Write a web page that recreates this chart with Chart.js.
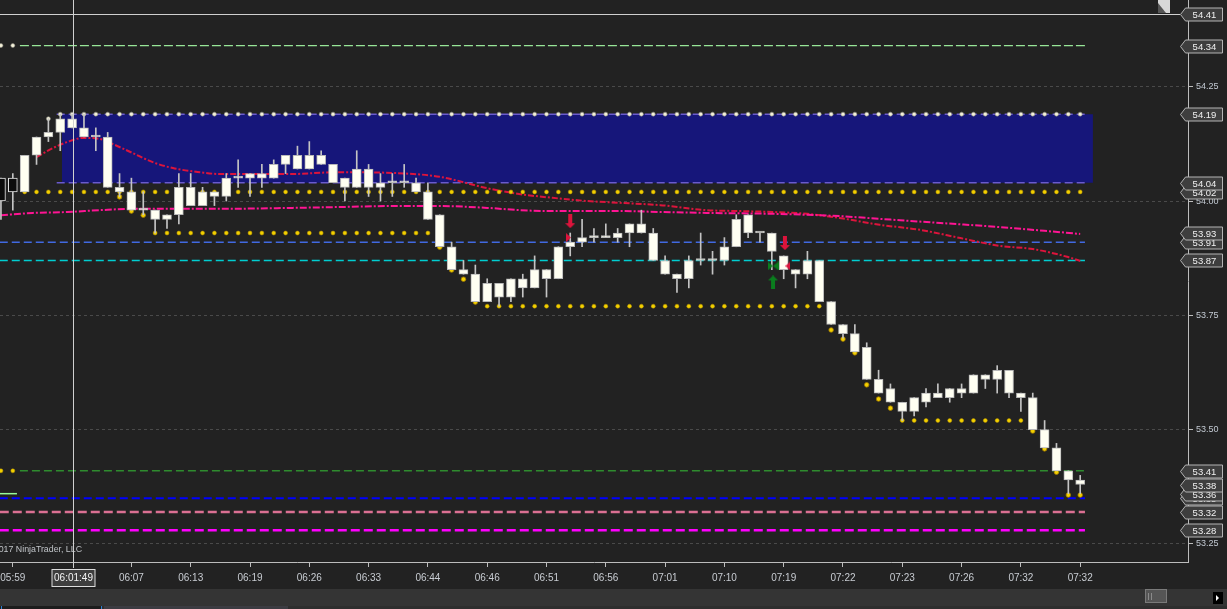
<!DOCTYPE html>
<html>
<head>
<meta charset="utf-8">
<title>CL 1 min</title>
<script src="https://cdn.jsdelivr.net/npm/chart.js@4.4.0/dist/chart.umd.min.js"></script>
<style>
html, body { margin: 0; padding: 0; background: #222222; overflow: hidden; }
#wrap { position: relative; width: 1227px; height: 609px; }
</style>
</head>
<body>
<div id="wrap"><canvas id="PriceChart"></canvas></div>
<script>
// x axis time labels, placed on bar index
var timeIdx = [1, 11, 16, 21, 26, 31, 36, 41, 46, 51, 56, 61, 66, 71, 76, 81, 86, 91];
var times = ['05:59', '06:07', '06:13', '06:19', '06:26', '06:33', '06:44', '06:46', '06:51',
             '06:56', '07:01', '07:10', '07:19', '07:22', '07:23', '07:26', '07:32', '07:32'];
var gridPrices = [53.25, 53.50, 53.75, 54.00, 54.25];

// candles (bar index = position in array)
var high = [54.05, 54.06, 54.10, 54.14, 54.18, 54.19, 54.19, 54.19, 54.16, 54.15,
            54.06, 54.05, 54.02, 53.98, 53.97, 54.06, 54.06, 54.03, 54.02, 54.06,
            54.09, 54.06, 54.08, 54.09, 54.10, 54.12, 54.13, 54.11, 54.08, 54.05,
            54.11, 54.08, 54.06, 54.06, 54.08, 54.05, 54.04, 53.97, 53.91, 53.87,
            53.86, 53.83, 53.82, 53.83, 53.84, 53.88, 53.85, 53.90, 53.93, 53.96,
            53.94, 53.95, 53.94, 53.95, 53.98, 53.94, 53.88, 53.84, 53.88, 53.93,
            53.89, 53.92, 53.97, 53.97, 53.93, 53.93, 53.88, 53.85, 53.89, 53.87,
            53.78, 53.73, 53.73, 53.69, 53.63, 53.60, 53.56, 53.57, 53.59, 53.60,
            53.59, 53.60, 53.62, 53.62, 53.64, 53.63, 53.58, 53.58, 53.52, 53.47,
            53.41, 53.40];
var bodyTop = [54.05, 54.05, 54.10, 54.14, 54.15, 54.18, 54.18, 54.16, 54.14, 54.14,
               54.03, 54.02, 53.98, 53.98, 53.97, 54.03, 54.03, 54.02, 54.02, 54.05,
               54.05, 54.06, 54.06, 54.08, 54.10, 54.10, 54.10, 54.10, 54.08, 54.05,
               54.07, 54.07, 54.04, 54.04, 54.04, 54.04, 54.02, 53.97, 53.90, 53.85,
               53.84, 53.82, 53.82, 53.83, 53.83, 53.85, 53.85, 53.90, 53.91, 53.92,
               53.92, 53.92, 53.93, 53.95, 53.95, 53.93, 53.87, 53.84, 53.87, 53.87,
               53.87, 53.90, 53.96, 53.97, 53.93, 53.93, 53.88, 53.85, 53.87, 53.87,
               53.78, 53.73, 53.71, 53.68, 53.61, 53.59, 53.56, 53.57, 53.58, 53.58,
               53.59, 53.59, 53.62, 53.62, 53.63, 53.63, 53.58, 53.57, 53.50, 53.46,
               53.41, 53.39];
var bodyBottom = [54.00, 54.02, 54.02, 54.10, 54.14, 54.15, 54.16, 54.14, 54.14, 54.03,
                  54.02, 53.98, 53.98, 53.96, 53.96, 53.97, 53.99, 53.99, 54.01, 54.01,
                  54.05, 54.05, 54.05, 54.05, 54.08, 54.07, 54.07, 54.08, 54.04, 54.03,
                  54.03, 54.03, 54.03, 54.04, 54.04, 54.02, 53.96, 53.90, 53.85, 53.84,
                  53.78, 53.78, 53.79, 53.79, 53.81, 53.81, 53.83, 53.83, 53.90, 53.91,
                  53.92, 53.92, 53.92, 53.93, 53.93, 53.87, 53.84, 53.83, 53.83, 53.87,
                  53.87, 53.87, 53.90, 53.93, 53.93, 53.89, 53.85, 53.84, 53.84, 53.78,
                  53.73, 53.71, 53.67, 53.61, 53.58, 53.56, 53.54, 53.54, 53.56, 53.57,
                  53.57, 53.58, 53.58, 53.61, 53.61, 53.58, 53.57, 53.50, 53.46, 53.41,
                  53.39, 53.38];
var low = [53.96, 53.98, 54.02, 54.08, 54.13, 54.11, 54.16, 54.14, 54.11, 54.03,
           54.01, 53.98, 53.97, 53.93, 53.94, 53.95, 53.99, 53.99, 53.99, 54.00,
           54.03, 54.01, 54.03, 54.05, 54.06, 54.07, 54.07, 54.08, 54.04, 54.00,
           54.03, 54.01, 54.00, 54.01, 54.03, 54.02, 53.96, 53.90, 53.85, 53.84,
           53.78, 53.78, 53.77, 53.78, 53.79, 53.81, 53.79, 53.83, 53.88, 53.90,
           53.91, 53.92, 53.91, 53.90, 53.93, 53.87, 53.84, 53.80, 53.81, 53.86,
           53.84, 53.86, 53.90, 53.92, 53.91, 53.85, 53.83, 53.81, 53.83, 53.78,
           53.73, 53.70, 53.67, 53.61, 53.58, 53.56, 53.52, 53.53, 53.55, 53.57,
           53.56, 53.57, 53.58, 53.59, 53.58, 53.57, 53.54, 53.50, 53.46, 53.41,
           53.36, 53.36];

// moving averages, read at bar positions
var slowMaIdx = [0, 2.7, 5.6, 8.3, 11.1, 18.5, 24.6, 28.8, 33, 37, 41, 43.8, 46.5, 52.2,
                 55.6, 59.5, 65.1, 70.7, 74.1, 79.2, 84.2, 91];
var slowMa = [53.969, 53.974, 53.976, 53.980, 53.983, 53.983, 53.985, 53.987, 53.989, 53.989,
              53.985, 53.980, 53.978, 53.978, 53.976, 53.974, 53.972, 53.967, 53.961, 53.952,
              53.943, 53.928];
var fastMaIdx = [3, 4.4, 5.6, 6.9, 8.3, 9.4, 11.1, 12.8, 14.5, 16.8, 18.5, 24.4, 28.3, 33.4,
                 37, 41, 43.8, 46.5, 49.4, 52.2, 55.6, 59.5, 62.3, 65.1, 68, 70.7, 74.1, 77.5,
                 80.9, 84.2, 87, 89.9, 91];
var fastMa = [54.096, 54.116, 54.129, 54.138, 54.136, 54.125, 54.105, 54.085, 54.072, 54.063,
              54.059, 54.059, 54.063, 54.061, 54.053, 54.028, 54.015, 54.007, 54.000, 53.996,
              53.991, 53.980, 53.978, 53.976, 53.972, 53.963, 53.948, 53.937, 53.919, 53.902,
              53.895, 53.878, 53.869];

// dotted level rows (first bar, last bar, price)
var yellowRowFrom = [2, 13, 41, 76, 0];
var yellowRowTo = [91, 36, 69, 86, 1];
var yellowRowPrice = [54.02, 53.93, 53.77, 53.52, 53.41];
var paleRowFrom = [0, 5, 4];
var paleRowTo = [1, 91, 4];
var paleRowPrice = [54.34, 54.19, 54.18];
// dots under the bars
var lowDotIdx = [10, 11, 12, 37, 38, 39, 40, 70, 71, 72, 73, 74, 75, 87, 88, 89, 90, 91];
var lowDotPrice = [54.009, 53.978, 53.969, 53.899, 53.849, 53.829, 53.779, 53.718, 53.698,
                   53.668, 53.598, 53.567, 53.547, 53.497, 53.458, 53.407, 53.357, 53.357];

// zone and horizontal lines
var zoneTop = 54.19;
var zoneBottom = 54.04;
var levels = [54.34, 54.19, 54.04, 53.91, 53.87, 53.41, 53.36, 53.35, 53.32, 53.28];

// trade markers
var sigIdx = [48, 47.85, 65.1, 65.1, 66.1, 66.36];
var sigPrice = [53.956, 53.920, 53.858, 53.822, 53.908, 53.858];
var sigKind = ['sell', 'sellTri', 'tie', 'buy', 'sell', 'exitTri'];

// right axis price boxes
var markerPrices = [53.28, 53.32, 53.35, 53.36, 53.38, 53.41, 53.87, 53.91, 53.93, 54.02, 54.04, 54.19, 54.34, 54.41];
var crossIdx = 6.07;
var crossPrice = 54.41;
var crossTime = '06:01:49';

var FONT = "'Liberation Sans', Arial, sans-serif";
Chart.defaults.font.family = FONT;

var levelStyles = [
    {color: '#98e698', dash: [9, 3], width: 1.2, from: 1.6, to: 91.4},
    {color: '#6a5acd', dash: [8, 4], width: 1.5, from: 4.7, to: 91.4},
    {color: '#6a5acd', dash: [8, 4], width: 1.5, from: 4.7, to: 91.4},
    {color: '#4169e1', dash: [8, 4], width: 1.5, from: -0.1, to: 91.4},
    {color: '#00ced1', dash: [8, 4], width: 1.5, from: -0.1, to: 91.4},
    {color: '#2e8b2e', dash: [8, 4], width: 1.5, from: 1.6, to: 91.4},
    {color: '#98fb98', dash: [], width: 1.5, from: -0.1, to: 1.35},
    {color: '#0000ff', dash: [8, 4], width: 2, from: -0.1, to: 91.4},
    {color: '#db7093', dash: [9, 4], width: 2.5, from: -0.1, to: 91.4},
    {color: '#ff00ff', dash: [9, 4], width: 2.5, from: -0.1, to: 91.4}
];

function makeMarker(kind) {
    var c = document.createElement('canvas');
    var g;
    if (kind === 'sell' || kind === 'buy') {
        c.width = 10; c.height = 14;
        g = c.getContext('2d');
        g.fillStyle = kind === 'sell' ? '#dc143c' : '#0a7d1e';
        g.beginPath();
        if (kind === 'sell') {
            g.moveTo(3, 0); g.lineTo(7, 0); g.lineTo(7, 9); g.lineTo(10, 9);
            g.lineTo(5, 14); g.lineTo(0, 9); g.lineTo(3, 9);
        } else {
            g.moveTo(5, 0); g.lineTo(10, 5); g.lineTo(7, 5); g.lineTo(7, 14);
            g.lineTo(3, 14); g.lineTo(3, 5); g.lineTo(0, 5);
        }
        g.closePath(); g.fill();
    } else if (kind === 'tie') {
        c.width = 11; c.height = 9;
        g = c.getContext('2d');
        g.fillStyle = '#0a7d1e';
        g.beginPath(); g.moveTo(0, 0); g.lineTo(5.5, 4.5); g.lineTo(0, 9); g.closePath(); g.fill();
        g.beginPath(); g.moveTo(11, 0); g.lineTo(5.5, 4.5); g.lineTo(11, 9); g.closePath(); g.fill();
    } else {
        c.width = 5; c.height = 9;
        g = c.getContext('2d');
        g.fillStyle = '#dc143c';
        g.beginPath();
        if (kind === 'sellTri') { g.moveTo(0, 0); g.lineTo(5, 4.5); g.lineTo(0, 9); }
        else { g.moveTo(5, 0); g.lineTo(0, 4.5); g.lineTo(5, 9); }
        g.closePath(); g.fill();
    }
    return c;
}

function rowPoints(from, to, price) {
    var pts = [];
    for (var r = 0; r < price.length; r++) {
        for (var i = from[r]; i <= to[r]; i++) pts.push({x: i, y: price[r]});
    }
    return pts;
}

var wickData = high.map(function (h, i) { return {x: i, y: [low[i], h]}; });
var bodyData = bodyTop.map(function (t, i) { return {x: i, y: [bodyBottom[i], t]}; });

var datasets = [];

datasets.push({
    type: 'line', order: 20,
    data: [{x: 5.14, y: zoneTop}, {x: 92.07, y: zoneTop}],
    fill: {value: zoneBottom}, backgroundColor: '#16167a',
    borderWidth: 0, pointRadius: 0
});

levels.forEach(function (p, k) {
    var s = levelStyles[k];
    datasets.push({
        type: 'line', order: 15,
        data: [{x: s.from, y: p}, {x: s.to, y: p}],
        borderColor: s.color, borderWidth: s.width, borderDash: s.dash,
        pointRadius: 0, fill: false
    });
});

datasets.push({
    type: 'line', order: 12,
    data: slowMaIdx.map(function (v, i) { return {x: v, y: slowMa[i]}; }),
    borderColor: '#ff1493', borderWidth: 2, borderDash: [7, 2, 2, 2],
    pointRadius: 0, cubicInterpolationMode: 'monotone', fill: false
});
datasets.push({
    type: 'line', order: 12,
    data: fastMaIdx.map(function (v, i) { return {x: v, y: fastMa[i]}; }),
    borderColor: '#dc143c', borderWidth: 2, borderDash: [6, 2, 2, 2],
    pointRadius: 0, cubicInterpolationMode: 'monotone', fill: false
});

datasets.push({
    type: 'line', order: 10, showLine: false,
    data: rowPoints(yellowRowFrom, yellowRowTo, yellowRowPrice),
    pointRadius: 2, pointBackgroundColor: '#f2d000', pointBorderColor: '#b89400', pointBorderWidth: 0.5
});
datasets.push({
    type: 'line', order: 10, showLine: false,
    data: lowDotIdx.map(function (v, i) { return {x: v, y: lowDotPrice[i]}; }),
    pointRadius: 2.3, pointBackgroundColor: '#f2d000', pointBorderColor: '#a07800', pointBorderWidth: 0.8
});
datasets.push({
    type: 'line', order: 10, showLine: false,
    data: rowPoints(paleRowFrom, paleRowTo, paleRowPrice),
    pointRadius: 2, pointBackgroundColor: '#f3f0d8', pointBorderColor: '#8a8a80', pointBorderWidth: 0.6
});

datasets.push({
    type: 'bar', order: 8, grouped: false,
    data: wickData, barThickness: 1,
    backgroundColor: '#c4c4c4', borderWidth: 0
});
datasets.push({
    type: 'bar', order: 7, grouped: false,
    data: bodyData, barThickness: 9, minBarLength: 2,
    backgroundColor: function (c) { return c.dataIndex < 2 ? '#0c0c0c' : '#fffff2'; },
    borderColor: function (c) { return c.dataIndex < 2 ? '#e6e6e6' : '#b8b8b8'; },
    borderWidth: 1, borderSkipped: false
});

datasets.push({
    type: 'line', order: 1, showLine: false,
    data: sigIdx.map(function (v, i) { return {x: v, y: sigPrice[i]}; }),
    pointRadius: 6,
    pointStyle: sigKind.map(makeMarker)
});

var overlay = {
    id: 'overlay',
    beforeDraw: function (chart) {
        var ctx = chart.ctx;
        ctx.save();
        ctx.fillStyle = '#222222';
        ctx.fillRect(0, 0, chart.width, chart.height);
        ctx.restore();
    },
    beforeDatasetsDraw: function (chart) {
        var ctx = chart.ctx;
        ctx.save();
        ctx.font = '8.8px ' + FONT;
        ctx.fillStyle = '#c0c4c8';
        ctx.textAlign = 'right';
        ctx.textBaseline = 'middle';
        ctx.fillText('\u00a9 2017 NinjaTrader, LLC', 82, chart.chartArea.bottom - 12);
        ctx.restore();
    },
    afterDraw: function (chart) {
        var ctx = chart.ctx, xs = chart.scales.x, ys = chart.scales.y, area = chart.chartArea;
        ctx.save();

        // crosshair
        var cx = Math.round(xs.getPixelForValue(crossIdx)) + 0.5;
        var cy = Math.round(ys.getPixelForValue(crossPrice)) + 0.5;
        ctx.strokeStyle = '#d0d0d0';
        ctx.lineWidth = 1;
        ctx.beginPath();
        ctx.moveTo(cx, 0); ctx.lineTo(cx, area.bottom + 6);
        ctx.moveTo(0, cy); ctx.lineTo(1180, cy);
        ctx.stroke();

        // price boxes
        ctx.font = '9.5px ' + FONT;
        ctx.textAlign = 'center';
        ctx.textBaseline = 'middle';
        markerPrices.forEach(function (p) {
            var py = Math.round(ys.getPixelForValue(p)) + 0.5;
            ctx.beginPath();
            ctx.moveTo(1180.5, py);
            ctx.lineTo(1185.5, py - 6.5);
            ctx.lineTo(1222.5, py - 6.5);
            ctx.lineTo(1222.5, py + 6.5);
            ctx.lineTo(1185.5, py + 6.5);
            ctx.closePath();
            ctx.fillStyle = '#3e3e3e';
            ctx.fill();
            ctx.strokeStyle = '#b4b4b4';
            ctx.stroke();
            ctx.fillStyle = '#f0f0f0';
            ctx.fillText(p.toFixed(2), 1204.5, py + 0.5);
        });

        // crosshair time box
        ctx.fillStyle = '#3e3e3e';
        ctx.fillRect(cx - 21.5, area.bottom + 7, 43, 18);
        ctx.strokeStyle = '#dcdcdc';
        ctx.strokeRect(cx - 21.5, area.bottom + 7.5, 43, 17);
        ctx.fillStyle = '#f4f4f4';
        ctx.font = '10px ' + FONT;
        ctx.fillText(crossTime, cx, area.bottom + 16.5);

        // top right tab icon
        ctx.fillStyle = '#d8d8d8';
        ctx.fillRect(1158, 0, 12, 13);
        ctx.fillStyle = '#555555';
        ctx.beginPath();
        ctx.moveTo(1158, 13); ctx.lineTo(1158, 3); ctx.lineTo(1166, 13); ctx.closePath();
        ctx.fill();

        // scroll strip
        var sy = chart.height - 20;
        ctx.fillStyle = '#343434';
        ctx.fillRect(0, sy, chart.width, 20);
        ctx.fillStyle = '#2e2e2e';
        ctx.fillRect(0, sy + 17, chart.width, 3);
        ctx.fillStyle = '#1c1c1c';
        ctx.fillRect(0, sy + 17, 101, 3);
        ctx.fillStyle = '#2a7fd4';
        ctx.fillRect(1, sy + 17, 1, 3);
        ctx.fillRect(101, sy + 17, 1, 3);
        ctx.fillStyle = '#3c3c42';
        ctx.fillRect(104, sy + 17, 184, 3);
        ctx.fillStyle = '#555555';
        ctx.fillRect(1145, sy, 22, 14);
        ctx.strokeStyle = '#7a7a7a';
        ctx.strokeRect(1145.5, sy + 0.5, 21, 13);
        ctx.fillStyle = '#8a8a8a';
        ctx.fillRect(1148, sy + 4, 1, 7);
        ctx.fillRect(1151, sy + 4, 1, 7);
        ctx.fillStyle = '#000000';
        ctx.fillRect(1213, sy + 3, 10, 12);
        ctx.fillStyle = '#ffffff';
        ctx.beginPath();
        ctx.moveTo(1216, sy + 6); ctx.lineTo(1219, sy + 9); ctx.lineTo(1216, sy + 12); ctx.closePath();
        ctx.fill();

        ctx.restore();
    }
};

var priceChart = new Chart(document.getElementById('PriceChart').getContext('2d'), {
    type: 'bar',
    data: {datasets: datasets},
    options: {
        responsive: true,
        maintainAspectRatio: false,
        animation: false,
        events: [],
        devicePixelRatio: 1,
        layout: {autoPadding: false, padding: {left: 0, right: 0, top: 0, bottom: 20}},
        plugins: {legend: {display: false}, tooltip: {enabled: false}},
        scales: {
            x: {
                type: 'linear', min: -0.08, max: 100.09, offset: false,
                afterBuildTicks: function (s) { s.ticks = timeIdx.map(function (v) { return {value: v}; }); },
                afterFit: function (s) { s.height = 27; s.paddingLeft = 0; s.paddingRight = 0; },
                grid: {offset: false, drawOnChartArea: false, drawTicks: true, tickLength: 5, tickColor: '#bdbdbd'},
                border: {color: '#bdbdbd', width: 1},
                ticks: {
                    autoSkip: false, maxRotation: 0, color: '#c8ccd2', padding: 5,
                    font: {size: 10},
                    callback: function (v) { var k = timeIdx.indexOf(v); return k < 0 ? '' : times[k]; }
                }
            },
            y: {
                position: 'right', min: 53.2106, max: 54.4396,
                afterBuildTicks: function (s) { s.ticks = gridPrices.map(function (v) { return {value: v}; }); },
                afterFit: function (s) { s.width = 39; s.paddingTop = 0; s.paddingBottom = 0; },
                grid: {color: '#4a4a4a', tickColor: '#bdbdbd', tickLength: 5},
                border: {color: '#bdbdbd', width: 1, dash: [3, 3]},
                ticks: {
                    color: '#c3cad3', padding: 3, font: {size: 9},
                    callback: function (v) { return Number(v).toFixed(2); }
                }
            }
        }
    },
    plugins: [overlay]
});
</script>
</body>
</html>
